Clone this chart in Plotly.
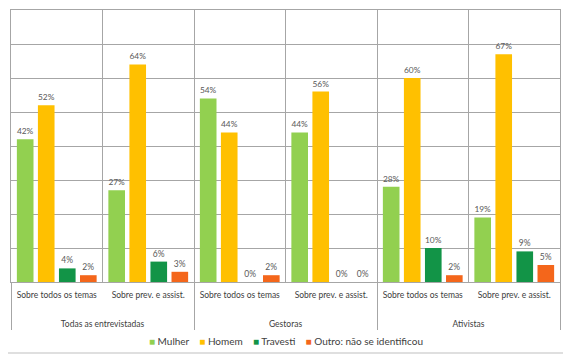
import plotly.graph_objects as go

groups = ["Todas as entrevistadas", "Todas as entrevistadas", "Gestoras", "Gestoras", "Ativistas", "Ativistas"]
subcats = ["Sobre todos os temas", "Sobre prev. e assist.", "Sobre todos os temas", "Sobre prev. e assist.", "Sobre todos os temas", "Sobre prev. e assist."]

series_names = ["Mulher", "Homem", "Travesti", "Outro: não se identificou"]
mulher = [42, 27, 54, 44, 28, 19]
homem = [52, 64, 44, 56, 60, 67]
travesti = [4, 6, 0, 0, 10, 9]
outro = [2, 3, 2, 0, 2, 5]
colors = ["#92D050", "#FFC000", "#129447", "#F4661B"]

font_family = "Lato, Open Sans, sans-serif"

# pad sub-category labels so the group level sits lower (as in the reference)
sub_labels = [s + "<br> <br> " for s in subcats]

# the page body has an 8px default margin, so the figure is sized to fit the window
W, H = 563, 349
PL, PR, PT, PB = 3, 11, 2, 75
pw, ph = W - PL - PR, H - PT - PB

fig = go.Figure()
for name, vals, col in zip(series_names, [mulher, homem, travesti, outro], colors):
    fig.add_trace(go.Bar(
        x=[groups, sub_labels], y=vals, name=name, showlegend=False,
        marker=dict(color=col, line=dict(width=0)),
        text=[f"{v}%" for v in vals], textposition="outside",
        textfont=dict(size=8.5, color="#595959", family=font_family),
        cliponaxis=False,
    ))

fig.update_layout(
    width=W, height=H,
    margin=dict(l=PL, r=PR, t=PT, b=PB),
    paper_bgcolor="white", plot_bgcolor="white",
    barmode="group", bargap=0.08, bargroupgap=0.21,
    font=dict(family=font_family, size=8.5, color="#404040"),
    showlegend=False,
)
fig.update_layout(xaxis=dict(
    type="multicategory", tickson="boundaries", showgrid=True, gridcolor="#A6A6A6", gridwidth=1,
    showline=True, linecolor="#A6A6A6", mirror=True, showdividers=True, dividercolor="#A6A6A6",
    ticks="", tickangle=0, automargin=False, ticklabelstandoff=5,
    tickfont=dict(size=8.5, color="#404040"),
))
fig.update_layout(yaxis=dict(
    range=[0, 80], dtick=10, showgrid=True, gridcolor="#A6A6A6", gridwidth=1,
    showticklabels=False, showline=True, linecolor="#A6A6A6", mirror=True, zeroline=False,
    automargin=False,
))

# legend drawn as one line of text with coloured square glyphs
legend_text = "    ".join(
    f"<span style='color:{c}'>■</span> {n}" for n, c in zip(series_names, colors)
)
fig.add_annotation(text=legend_text, xref="paper", yref="paper", x=(285.5 - 8 - PL) / pw, y=-59 / ph,
                   xanchor="center", yanchor="middle", showarrow=False,
                   font=dict(size=10, color="#404040", family=font_family))

fig.add_shape(type="rect", xref="paper", yref="paper",
              x0=-8 / pw, x1=1 + 7 / pw, y0=-71 / ph, y1=1 + 7 / ph,
              line=dict(color="#BFBFBF", width=1))
fig.write_html("out.html")
